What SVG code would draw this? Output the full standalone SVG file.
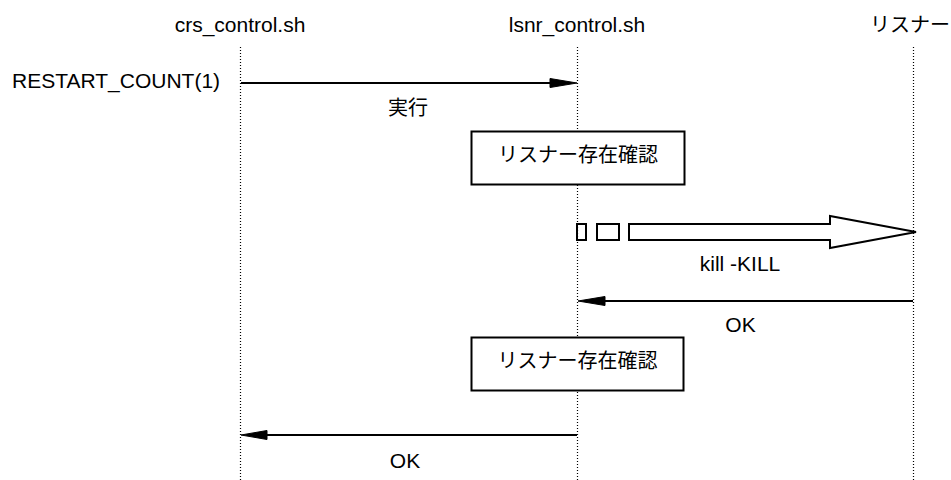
<svg xmlns="http://www.w3.org/2000/svg" width="951" height="480" viewBox="0 0 951 480">
<style>
text{font-family:"Liberation Sans","Noto Sans CJK JP",Arial,sans-serif;font-size:21px;fill:#000}
.cjk{font-size:20px}
.mid{text-anchor:middle}
.life{stroke:#000;stroke-width:1.2;stroke-dasharray:1 2;fill:none}
.msg{stroke:#000;stroke-width:2;fill:none}
.head{fill:#000;stroke:#000;stroke-width:1}
.box{fill:#fff;stroke:#000;stroke-width:2}
</style>
<rect width="951" height="480" fill="#fff"/>
<g id="crs">
<text class="mid" x="240" y="32">crs_control.sh</text>
<line class="life" x1="240.5" y1="47" x2="240.5" y2="480"/>
</g>
<g id="lsnr">
<text class="mid" x="577" y="32">lsnr_control.sh</text>
<line class="life" x1="577.5" y1="47" x2="577.5" y2="480"/>
</g>
<g id="listener">
<text class="cjk" x="870" y="32">リスナー</text>
<line class="life" x1="913.5" y1="47" x2="913.5" y2="480"/>
</g>
<g id="restart-label">
<text x="12" y="88">RESTART_COUNT(1)</text>
</g>
<g id="check1">
<rect class="box" x="471.5" y="131.5" width="213" height="53"/>
<text class="mid cjk" x="578" y="162">リスナー存在確認</text>
</g>
<g id="check2">
<rect class="box" x="471.5" y="337.5" width="212" height="53"/>
<text class="mid cjk" x="577.5" y="368">リスナー存在確認</text>
</g>
<g id="connectors">
<line class="msg" x1="241" y1="83" x2="552" y2="83"/>
<polygon class="head" points="550,78.5 577,83 550,87.5"/>
<text class="mid cjk" x="408" y="115">実行</text>

<rect class="msg" x="577" y="224" width="9" height="16"/>
<rect class="msg" x="597" y="224" width="22" height="16"/>
<polygon class="msg" points="629,224 830,224 830,216 916,232 830,248 830,240 629,240"/>
<text class="mid" x="740" y="271">kill -KILL</text>

<line class="msg" x1="913" y1="301" x2="603" y2="301"/>
<polygon class="head" points="605,296.5 578,301 605,305.5"/>
<text class="mid" x="740.5" y="332">OK</text>

<line class="msg" x1="577" y1="435" x2="265" y2="435"/>
<polygon class="head" points="267,430.5 241,435 267,439.5"/>
<text class="mid" x="405" y="468">OK</text>
</g>
</svg>
